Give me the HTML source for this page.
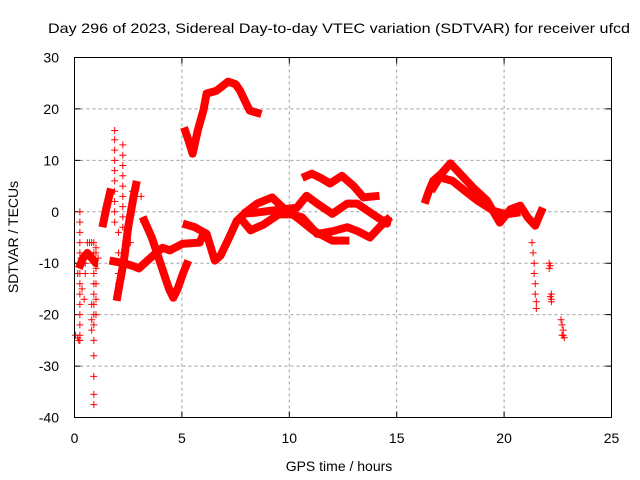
<!DOCTYPE html>
<html><head><meta charset="utf-8"><style>
body{margin:0;background:#fff}
svg{display:block;font-family:"Liberation Sans",sans-serif}
</style></head><body>
<svg id="chart" width="640" height="480" viewBox="0 0 640 480">
<rect width="640" height="480" fill="#fff"/>
<text x="339" y="33" font-size="14" text-anchor="middle" textLength="582" lengthAdjust="spacingAndGlyphs">Day 296 of 2023, Sidereal Day-to-day VTEC variation (SDTVAR) for receiver ufcd</text>
<g id="grid"></g>
<g id="axes"></g>
<g id="marks"></g>
<rect x="74.5" y="57.5" width="537" height="360" fill="none" stroke="#000" stroke-width="1"/>
<text x="339" y="471" font-size="14" text-anchor="middle">GPS time / hours</text>
<text x="18" y="237" font-size="14" text-anchor="middle" transform="rotate(-90 18 237)">SDTVAR / TECUs</text>
</svg>
<script>
const xTicks=[0,5,10,15,20,25];
const yTicks=[30,20,10,0,-10,-20,-30,-40];
const bandT=[
 [1.96,2.1,2.3,2.5,2.75,2.9],
 [3.17,3.6,4.0,4.4,4.6,4.8,5.05,5.3],
 [1.63,2.3,2.7,3.0,3.4,3.8,4.1,4.43,5.04,5.83,6.0],
 [5.04,5.6,6.15,6.35,6.53,6.8,7.2,7.55,8.0,8.5,9.2,9.7,10.35,11.1,12.0,12.8],
 [7.8,8.4,9.1,10.35,10.8,11.4,12.0,12.7,13.15,13.9,14.55,14.6],
 [7.7,8.2,8.8,9.5,10.1,10.6,11.3,12.0,12.7,13.2,13.75,14.2,14.7],
 [10.6,11.05,11.5,11.9,12.45,13.0,13.45,14.2],
 [5.1,5.3,5.5,5.75,6.0,6.15,6.6,7.15,7.5,7.7,8.15,8.7],
 [16.3,16.5,16.7,17.1,17.5,17.95,18.6,19.2,19.8,20.3,20.75,21.1,21.45,21.8],
 [16.6,17.0,17.6,18.2,18.75,19.5,20.1,20.75],
 [1.3,1.5,1.7],
 [0.2,0.4,0.6,0.8,1.0,1.1]
];
const bandV=[
 [-17.3,-14,-9.5,-3,3,6],
 [-1,-5,-10,-15,-16.7,-15,-12,-9.5],
 [-9.5,-10,-10.5,-11,-9.5,-8,-7,-7.5,-6.2,-6,-4.3],
 [-2.3,-3,-4.3,-7,-9.5,-8.5,-5,-1.8,0,1.6,2.8,0.8,-1.1,-3.6,-5.6,-5.6],
 [-0.4,-0.2,0.2,0.8,3.1,1.3,-0.4,1.6,1.6,-0.5,-2.3,-1],
 [-1.1,-3.6,-2.5,-0.5,-0.5,-1.1,-4.3,-3.8,-3,-3.8,-5,-3,-1],
 [6.6,7.4,6.5,5.5,7,5,2.8,3.1],
 [16.4,14,11.3,16,19.7,23,23.5,25.3,24.8,23.6,19.7,19],
 [1.6,4,6,7.5,9.4,7.4,4.5,2.2,-2.1,0.5,1.2,-1.1,-2.7,0.8],
 [4,6.7,6,4,2.2,0.2,-0.5,-0.1],
 [-3,1,4.5],
 [-11,-9,-8,-9,-10,-10]
];
const ptT=[0.05,0.15,0.2,0.25,0.25,0.25,0.25,0.25,0.25,0.25,0.25,0.25,0.25,0.25,0.25,0.25,0.25,
 0.15,0.3,0.4,0.5,0.6,0.7,0.8,1.0,1.1,0.35,0.45,0.5,
 0.9,0.9,0.9,0.9,0.9,0.9,0.9,0.9,0.9,0.9,0.9,0.9,0.9,0.9,1.0,1.0,1.0,1.0,1.0,0.8,0.8,0.8,
 1.87,1.87,1.87,1.87,1.87,1.87,1.87,1.87,1.87,1.87,2.25,2.25,2.25,2.25,2.25,2.25,2.25,2.25,2.25,
 2.05,2.05,2.05,2.05,2.6,2.6,2.7,3.1,3.2,
 21.3,21.35,21.4,21.4,21.45,21.45,21.5,21.5,
 22.1,22.1,22.15,22.15,22.2,22.2,22.2,
 22.65,22.7,22.7,22.75,22.75,22.8];
const ptV=[-24,-24.5,-25,0,-2,-4,-6,-8,-10,-12,-14,-16,-18,-20,-22,-24,-25,
 -12,-9,-10,-10,-6,-6,-6,-7,-9,-15,-17,-12,
 -6,-8,-10,-12,-14,-16,-18,-20,-22,-25,-28,-32,-35.5,-37.5,-8,-11,-14,-17,-20,-18,-21,-23,
 15.8,14,12,10,8,6,4,2,0,-2,13,11,9,7,5,3,1,-1,-3,
 -4,-8,-12,-14,0,-6,4,3,-2,
 -6,-8,-10,-12,-14,-16,-17.5,-18.8,
 -10,-11,-10.5,-16.5,-17,-17.5,-16,
 -21,-22,-24,-23,-24,-24.5];

const X0=74.5,X1=611.5,Y0=57.5,Y1=417.5;
function xs(t){return X0+(t-0)/(25-0)*(X1-X0);}
function ys(v){return Y0+(30-v)/(30-(-40))*(Y1-Y0);}
const NS='http://www.w3.org/2000/svg';
function mk(tag,attrs,parent){const e=document.createElementNS(NS,tag);for(const k in attrs)e.setAttribute(k,attrs[k]);parent.appendChild(e);return e;}
const grid=document.getElementById('grid'),axes=document.getElementById('axes'),marks=document.getElementById('marks');
xTicks.forEach(t=>{
 const x=xs(t);
 if(t>0&&t<25){const g=mk('line',{x1:x,y1:Y0,x2:x,y2:Y1,stroke:'#a0a0a0','stroke-dasharray':'3,3'},grid);
 
 }
 const tk=mk('path',{d:`M${x},${Y1}v-6M${x},${Y0}v6`,stroke:'#000'},axes);
 
 
 const lb=mk('text',{x:x,y:443,'font-size':14,'text-anchor':'middle'},axes);lb.textContent=t;
 
 
});
yTicks.forEach(v=>{
 const y=ys(v);
 if(v<30&&v>-40){const g=mk('line',{x1:X0,y1:y,x2:X1,y2:y,stroke:'#a0a0a0','stroke-dasharray':'3,3'},grid);
 
 }
 const tk=mk('path',{d:`M${X0},${y}h6M${X1},${y}h-6`,stroke:'#000'},axes);
 
 
 const lb=mk('text',{x:59,y:y+5,'font-size':14,'text-anchor':'end'},axes);lb.textContent=v;
 
 
});
bandT.forEach((ts,i)=>{
 const d=ts.map((t,j)=>(j?'L':'M')+xs(t).toFixed(1)+','+ys(bandV[i][j]).toFixed(1)).join('');
 const p=mk('path',{d:d,fill:'none',stroke:'#ff0000','stroke-width':8,'stroke-linejoin':'round','stroke-linecap':'butt'},marks);
 
 
});
ptT.forEach((t,i)=>{
 const x=xs(t),y=ys(ptV[i]);
 const p=mk('path',{d:`M${x-3.5},${y}h7M${x},${y-3.5}v7`,stroke:'#ff0000','stroke-width':1},marks);
 
 
});
</script>
</body></html>
